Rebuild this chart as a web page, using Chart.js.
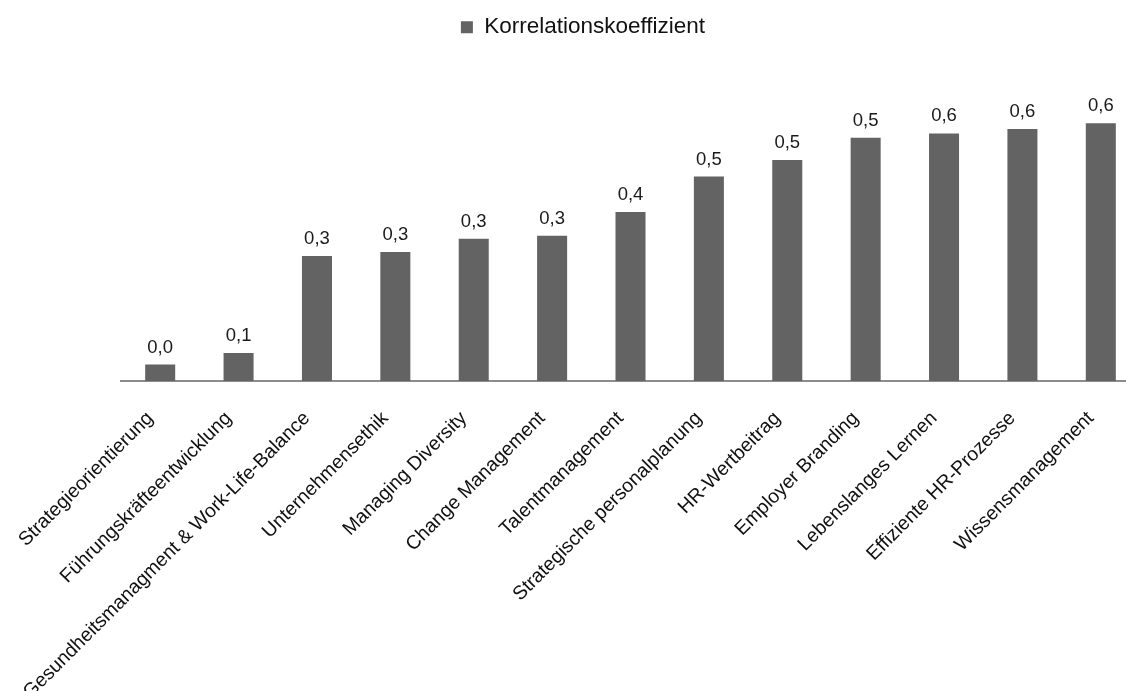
<!DOCTYPE html>
<html lang="de">
<head>
<meta charset="utf-8">
<title>Korrelationskoeffizient</title>
<script src="https://cdn.jsdelivr.net/npm/chart.js@4.4.1/dist/chart.umd.min.js"></script>
<style>
    html, body { margin: 0; padding: 0; background: #fff; overflow: hidden; }
</style>
</head>
<body>
<canvas id="corrChart" width="1166" height="691"></canvas>
<script>
const categories = [
    'Strategieorientierung',
    'Führungskräfteentwicklung',
    'Gesundheitsmanagment & Work-Life-Balance',
    'Unternehmensethik',
    'Managing Diversity',
    'Change Management',
    'Talentmanagement',
    'Strategische personalplanung',
    'HR-Wertbeitrag',
    'Employer Branding',
    'Lebenslanges Lernen',
    'Effiziente HR-Prozesse',
    'Wissensmanagement'
];
const seriesName = 'Korrelationskoeffizient';
const values = [0.037, 0.063, 0.281, 0.290, 0.320, 0.327, 0.380, 0.460, 0.497, 0.547, 0.557, 0.567, 0.580];

// value labels above the bars, German decimal comma
const valueLabels = {
    id: 'valueLabels',
    afterDatasetsDraw(chart) {
        const ctx = chart.ctx;
        const meta = chart.getDatasetMeta(0);
        ctx.save();
        ctx.font = '18.5px "Liberation Sans", Arial, sans-serif';
        ctx.fillStyle = '#1a1a1a';
        ctx.textAlign = 'center';
        ctx.textBaseline = 'alphabetic';
        meta.data.forEach((bar, i) => {
            ctx.fillText(values[i].toFixed(1).replace('.', ','), bar.x, bar.y - 12);
        });
        ctx.restore();
    }
};

const ctx = document.getElementById('corrChart').getContext('2d');
new Chart(ctx, {
    type: 'bar',
    data: {
        labels: categories,
        datasets: [{
            label: seriesName,
            data: values,
            backgroundColor: '#636363',
            borderWidth: 0,
            categoryPercentage: 1,
            barPercentage: 0.383
        }]
    },
    options: {
        responsive: false,
        animation: false,
        layout: { padding: { top: 6, right: 0, bottom: 0, left: 0 } },
        plugins: {
            legend: {
                position: 'top',
                labels: {
                    boxWidth: 12,
                    boxHeight: 12,
                    color: '#111',
                    font: { family: '"Liberation Sans", Arial, sans-serif', size: 22.5 }
                }
            },
            tooltip: { enabled: false }
        },
        scales: {
            x: {
                grid: { display: false },
                border: { display: true, color: '#8c8c8c', width: 2 },
                ticks: {
                    minRotation: 45,
                    maxRotation: 45,
                    padding: 18,
                    labelOffset: -10,
                    color: '#111',
                    font: { family: '"Liberation Sans", Arial, sans-serif', size: 19.5 }
                },
                afterFit: function(scale) { scale.height = 310; }
            },
            y: {
                min: 0,
                max: 0.748,
                grid: { display: false },
                border: { display: false },
                ticks: { display: false },
                afterFit: function(scale) { scale.width = 121; }
            },
            // empty right axis, only reserves the space on the right side
            yRight: {
                position: 'right',
                grid: { display: false },
                border: { display: false },
                ticks: { display: false },
                afterFit: function(scale) { scale.width = 26; }
            }
        }
    },
    plugins: [valueLabels]
});
</script>
</body>
</html>
